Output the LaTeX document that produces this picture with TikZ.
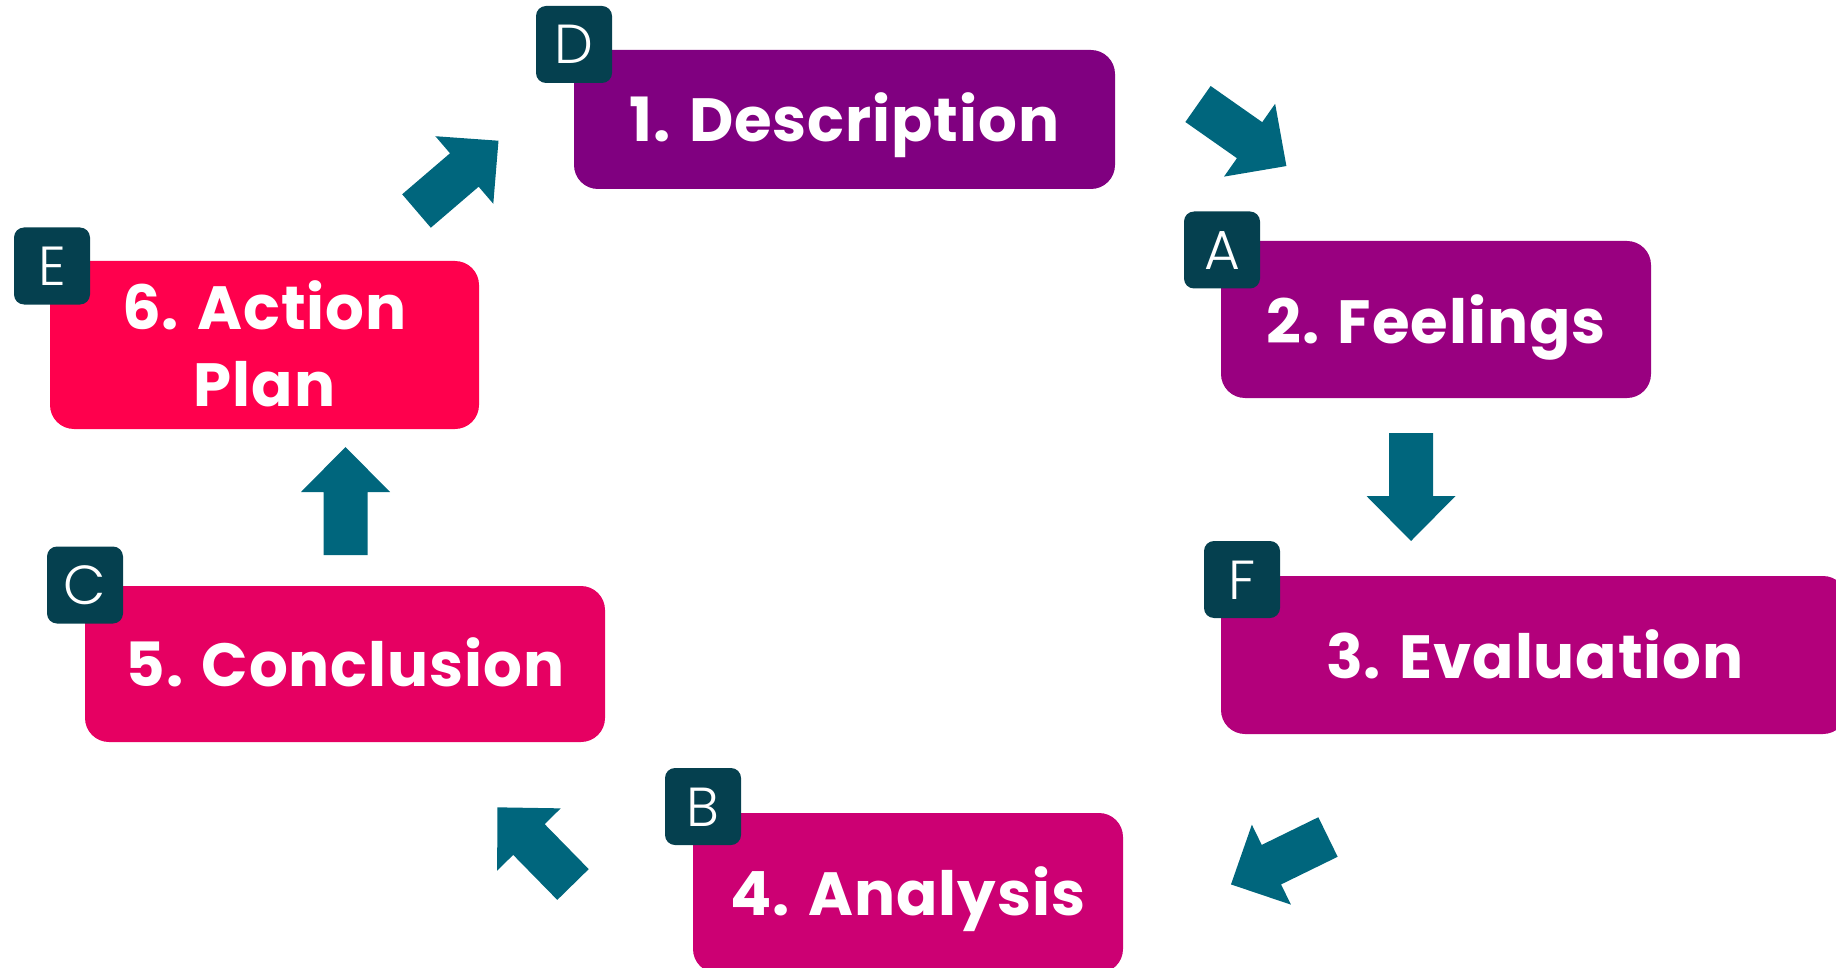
\documentclass[tikz,border=0pt]{standalone}
\usepackage{fontspec}
\setmainfont{Poppins}
\newfontfamily\lightfont{Poppins Light}
\usetikzlibrary{calc}
\definecolor{cA}{HTML}{800080}
\definecolor{cB}{HTML}{990080}
\definecolor{cC}{HTML}{B3007B}
\definecolor{cD}{HTML}{CC0073}
\definecolor{cE}{HTML}{E60062}
\definecolor{cF}{HTML}{FF004D}
\definecolor{badgecol}{HTML}{05404F}
\definecolor{arrowcol}{HTML}{00667D}
\newcommand{\blockarrow}[2]{%
  \fill[arrowcol,shift={#1},rotate=#2] (0,-22)--(63,-22)--(63,-44.5)--(108,0)--(63,44.5)--(63,22)--(0,22)--cycle;}
\begin{document}
\begin{tikzpicture}[x=1pt,y=1pt,
  stepbox/.style={fill=#1, draw=none, rounded corners=24pt, inner sep=0pt},
  badge/.style={fill=badgecol, draw=none, rounded corners=10pt, inner sep=0pt,
    minimum width=76pt, minimum height=77pt, text=white,
    font=\lightfont\fontsize{55}{55}\selectfont, text height=39pt, text depth=0pt},
  lbl/.style={text=white, font=\bfseries\fontsize{61}{77}\selectfont\addfontfeature{LetterSpace=1.5}, inner sep=0pt, anchor=base}]
\useasboundingbox (0,0) rectangle (1836,-968);
% boxes
\node[stepbox=cA, minimum width=541pt, minimum height=139pt] (b1) at (844.5,-119.5) {};
\node[stepbox=cB, minimum width=430pt, minimum height=157pt] (b2) at (1436,-319.5) {};
\node[stepbox=cC, minimum width=626pt, minimum height=158pt] (b3) at (1534,-655) {};
\node[stepbox=cD, minimum width=430pt, minimum height=160pt] (b4) at (908,-893) {};
\node[stepbox=cE, minimum width=520pt, minimum height=156pt] (b5) at (345,-664) {};
\node[stepbox=cF, minimum width=429pt, minimum height=168pt] (b6) at (264.5,-345) {};
% labels
\node[lbl] (t1) at ($(b1.center)+(0,-22.5)$) {1. Description};
\node[lbl] (t2) at ($(b2.center)+(0,-23.5)$) {2. Feelings};
\node[lbl] (t3) at ($(b3.center)+(1,-23)$) {3. Evaluation};
\node[lbl] (t4) at ($(b4.center)+(0,-22)$) {4. Analysis};
\node[lbl] (t5) at ($(b5.center)+(0,-22)$) {5. Conclusion};
\node[lbl] (t6a) at ($(b6.center)+(0,16)$) {6. Action};
\node[lbl] (t6b) at ($(b6.center)+(0,-61)$) {Plan};
% badges
\node[badge] (bD) at (574,-44.5) {D};
\node[badge] (bA) at (1222,-250) {A};
\node[badge] (bF) at (1242,-579.5) {F};
\node[badge] (bB) at (703,-806.5) {B};
\node[badge] (bC) at (85,-585) {C};
\node[badge] (bE) at (52,-266) {E};
% block arrows
\blockarrow{(1198,-104)}{-35.06}
\blockarrow{(1411,-433)}{-90}
\blockarrow{(1328,-837)}{-153.95}
\blockarrow{(573,-884.5)}{134.4}
\blockarrow{(345.5,-555)}{90}
\blockarrow{(416.5,-211)}{40.6}
\end{tikzpicture}
\end{document}
